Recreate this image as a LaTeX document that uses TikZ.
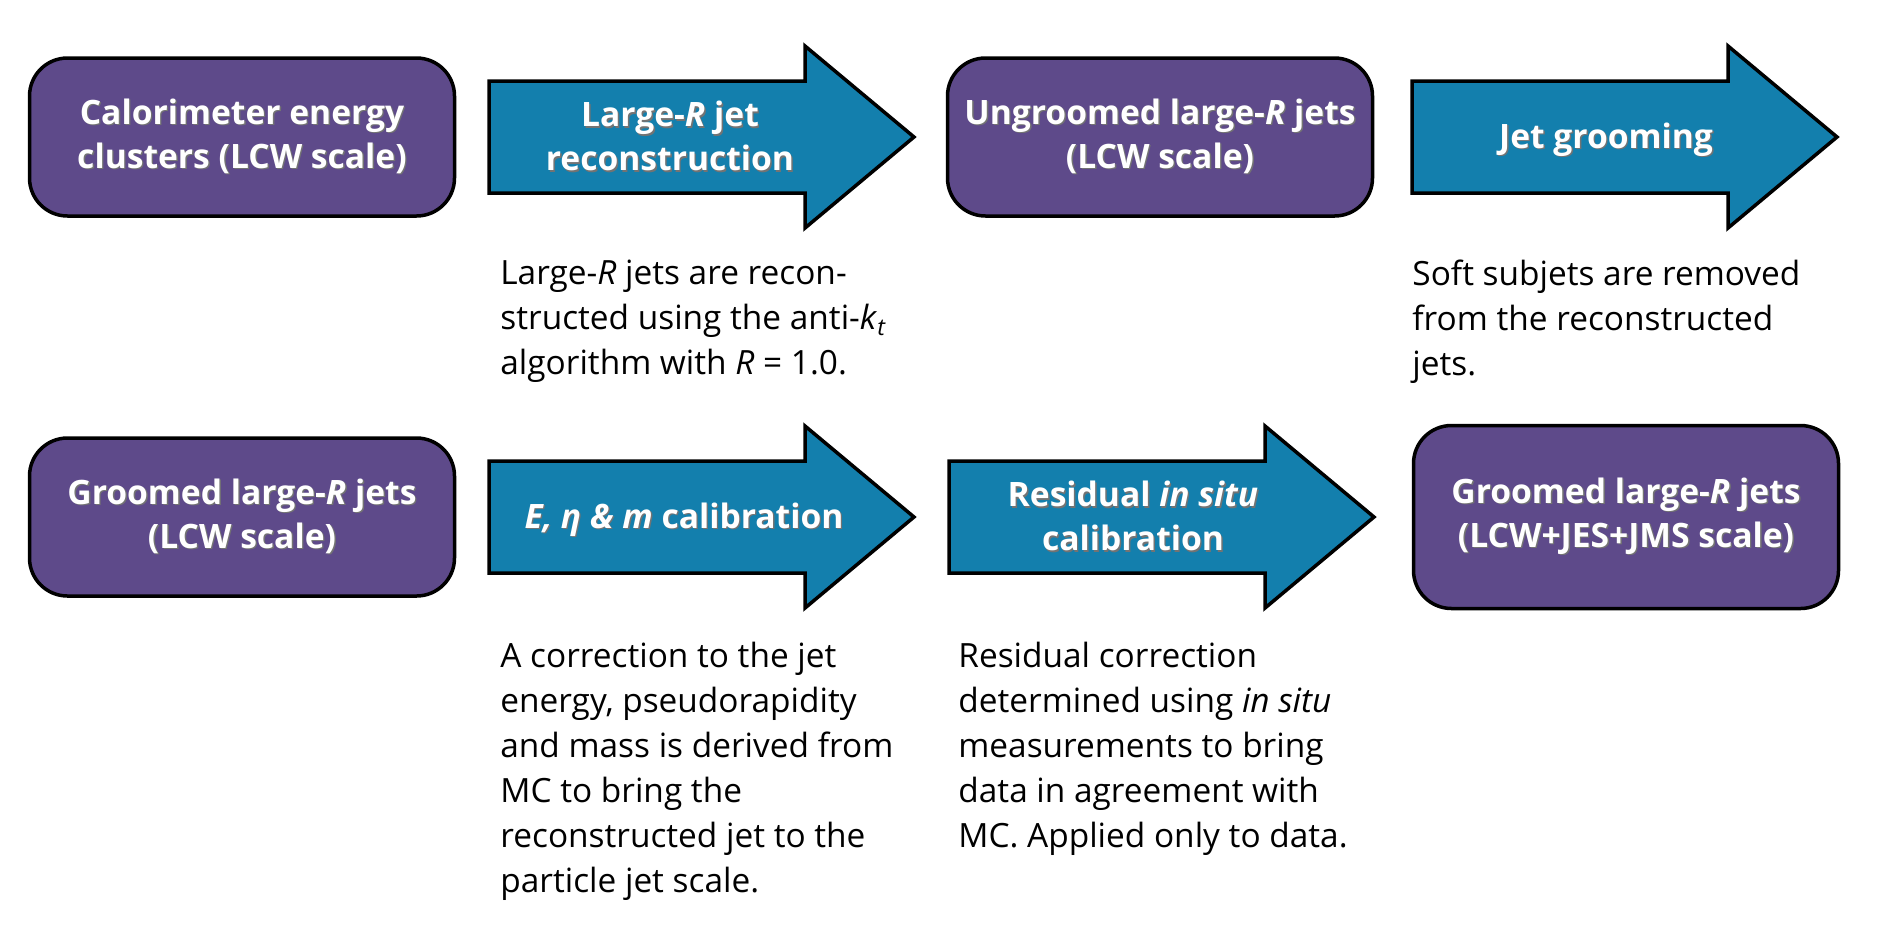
\documentclass[tikz,border=0pt]{standalone}
\usepackage{fontspec}
\setmainfont{Open Sans}
\usetikzlibrary{positioning}
\definecolor{jetpurple}{RGB}{94,74,138}
\definecolor{jetblue}{RGB}{19,127,173}
\newcommand\shadowline[1]{\leavevmode\rlap{\kern0.7pt\raisebox{-0.7pt}{\textcolor{black!55}{#1}}}#1}

\begin{document}
\begin{tikzpicture}[x=0.5pt, y=-0.5pt,
    every node/.style={inner sep=0pt},
    jetbox/.style={draw=black, line width=1.75pt, rounded corners=19pt, fill=jetpurple,
      minimum width=212.5pt, minimum height=79pt},
    steptext/.style={text=white, align=center, font=\fontsize{16.8}{22}\selectfont\bfseries},
    desc/.style={anchor=north west, align=left, font=\fontsize{16.7}{22.5}\selectfont},
    steparrow/.pic={
      \draw[line width=1.75pt, fill=jetblue] (0,-56) -- (316,-56) -- (316,-91) -- (425,0)
        -- (316,91) -- (316,56) -- (0,56) -- cycle;
    }]
    \useasboundingbox (0,0) rectangle (1904,928);

    \node[jetbox, steptext] (clusters) at (242, 137) {\shadowline{Calorimeter energy}\\\shadowline{clusters (LCW scale)}};
    \node[jetbox, steptext] (ungroomed) at (1160, 137) {\shadowline{Ungroomed large-\textit{R} jets}\\\shadowline{(LCW scale)}};
    \node[jetbox, steptext] (groomed) at (242, 517) {\shadowline{Groomed large-\textit{R} jets}\\\shadowline{(LCW scale)}};
    \node[jetbox, steptext, minimum height=91.5pt] (calibrated) at (1626, 517) {\shadowline{Groomed large-\textit{R} jets}\\\shadowline{(LCW+JES+JMS scale)}};

    \pic at (489, 137) {steparrow};
    \pic at (1412, 137) {steparrow};
    \pic at (489, 517) {steparrow};
    \pic at (949, 517) {steparrow};

    \node[steptext] (reco) at (670, 137) {\shadowline{Large-\textit{R} jet}\\\shadowline{reconstruction}};
    \node[steptext] (grooming) at (1606, 140) {\shadowline{Jet grooming}};
    \node[steptext] (emcal) at (684, 520) {\shadowline{\textit{E, η \& m} calibration}};
    \node[steptext] (insitu) at (1133, 517) {\shadowline{Residual \textit{in situ}}\\\shadowline{calibration}};

    \node[desc] (recodesc) at (500, 260) {Large-\textit{R} jets are recon-\\structed using the anti-\textit{k}\textsubscript{\textit{t}}\\algorithm with \textit{R} = 1.0.};
    \node[desc] (groomdesc) at (1412, 260) {Soft subjets are removed\\from the reconstructed\\jets.};
    \node[desc] (emdesc) at (500, 642) {A correction to the jet\\energy, pseudorapidity\\and mass is derived from\\MC to bring the\\reconstructed jet to the\\particle jet scale.};
    \node[desc] (insitudesc) at (958, 642) {Residual correction\\determined using \textit{in situ}\\measurements to bring\\data in agreement with\\MC. Applied only to data.};
\end{tikzpicture}
\end{document}
